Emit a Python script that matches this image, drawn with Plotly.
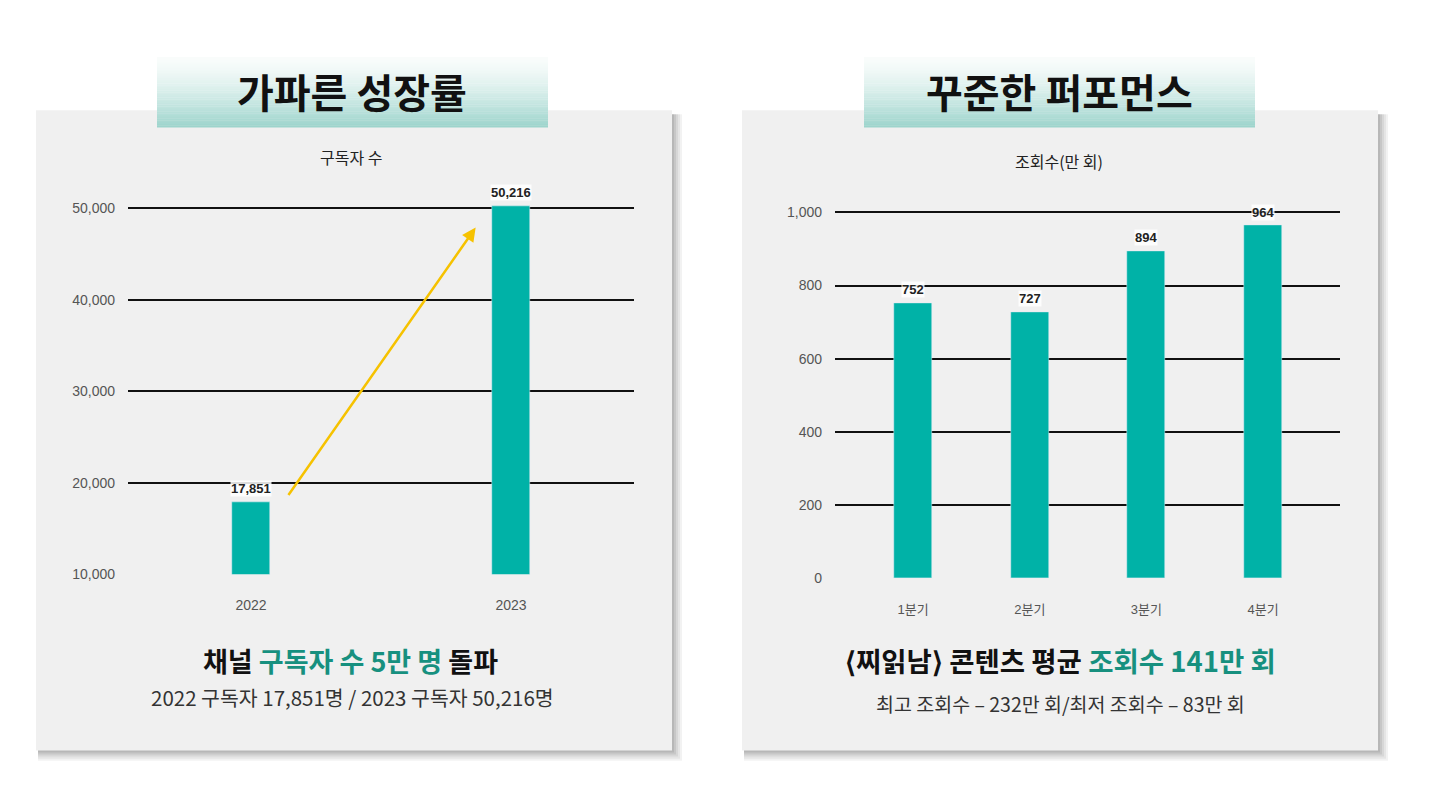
import plotly.graph_objects as go

# 데이터
years = ["2022", "2023"]
subscribers = [17851, 50216]
sub_ticks = [10000, 20000, 30000, 40000, 50000]

quarters = ["1분기", "2분기", "3분기", "4분기"]
views = [752, 727, 894, 964]
view_ticks = [0, 200, 400, 600, 800, 1000]

# 페이지 body 여백(8px)을 감안한 크기: 스크롤이 생기지 않게
OFF = 8
W, H = 1430 - 2 * OFF, 804 - 2 * OFF
TEAL = "#00b2a7"
KR = "Noto Sans CJK KR"
NUM = "Liberation Sans"
YFIX = 1.0125  # 세로 보정


def px(x):
    return (x - OFF) / W


def py(y):
    y = 92 + (y - 92) * YFIX
    return 1 - (y - OFF) / H


fig = go.Figure()

# 왼쪽: 구독자 수
fig.add_trace(go.Bar(x=years, y=subscribers, marker_color=TEAL, width=0.145,
                     xaxis="x", yaxis="y", hoverinfo="skip"))
# 오른쪽: 조회수
fig.add_trace(go.Bar(x=quarters, y=views, marker_color=TEAL, width=0.326,
                     xaxis="x2", yaxis="y2", hoverinfo="skip"))

# 축 픽셀 매핑
l_scale = 91.25 / 10000
l_range = [9990, 52000]
l_dom = [py(574 - (l_range[0] - 10000) * l_scale), py(574 - (l_range[1] - 10000) * l_scale)]
r_bottom, r_scale = 578, 0.365
r_range = [-2, 1050]
r_dom = [py(r_bottom - r_range[0] * r_scale), py(r_bottom - r_range[1] * r_scale)]

axis_common = dict(showline=False, zeroline=False, fixedrange=True)
ytick_font = dict(family=NUM, size=14, color="#555555")
xtick_font = dict(family=NUM, size=14, color="#555555")
qtick_font = dict(family=NUM + ", " + KR, size=13, color="#555555")

fig.update_layout(
    width=W, height=H,
    margin=dict(l=0, r=0, t=0, b=0),
    paper_bgcolor="white",
    plot_bgcolor="rgba(0,0,0,0)",
    showlegend=False,
    bargap=0,
    xaxis=dict(domain=[px(128), px(634)], range=[-0.473, 1.473], type="category",
               showgrid=False, tickfont=xtick_font, ticks="", ticklabelstandoff=21,
               anchor="y", **axis_common),
    yaxis=dict(domain=l_dom, range=l_range, tickvals=sub_ticks, tickformat=",",
               showgrid=True, gridcolor="#111111", gridwidth=1.6,
               tickfont=ytick_font, ticks="", ticklabelstandoff=12,
               anchor="x", **axis_common),
    xaxis2=dict(domain=[px(835), px(1340)], range=[-0.67, 3.66], type="category",
                showgrid=False, tickfont=qtick_font, ticks="", ticklabelstandoff=21,
                anchor="y2", **axis_common),
    yaxis2=dict(domain=r_dom, range=r_range, tickvals=view_ticks, tickformat=",",
                showgrid=True, gridcolor="#111111", gridwidth=1.6,
                tickfont=ytick_font, ticks="", ticklabelstandoff=12,
                anchor="x2", **axis_common),
)

shapes = []


# 종이 패널 + 그림자
def panel(x0, y0, x1, y1):
    for i, op in enumerate([0.05, 0.05, 0.06, 0.07, 0.08]):
        d = 10 - i * 2
        shapes.append(dict(type="rect", xref="paper", yref="paper",
                           x0=px(x0 + 2), x1=px(x1 + d), y0=py(y1 + d), y1=py(y0 + 4),
                           fillcolor=f"rgba(0,0,0,{op})", line_width=0, layer="below"))
    shapes.append(dict(type="rect", xref="paper", yref="paper",
                       x0=px(x0), x1=px(x1), y0=py(y1), y1=py(y0),
                       fillcolor="#f0f0f0", line_width=0, layer="below"))


# 제목 박스 그라데이션
def title_box(x0, y0, x1, y1, n=40):
    top = (250, 253, 252)
    bot = (156, 212, 204)
    h = (y1 - y0) / n
    for i in range(n):
        t = ((i + 0.5) / n) ** 1.4
        c = tuple(int(top[k] + (bot[k] - top[k]) * t) for k in range(3))
        shapes.append(dict(type="rect", xref="paper", yref="paper",
                           x0=px(x0), x1=px(x1), y0=py(y0 + h * (i + 1) + 0.3), y1=py(y0 + h * i),
                           fillcolor=f"rgb{c}", line_width=0, layer="below"))


panel(36, 111, 672, 750)
panel(742, 111, 1378, 750)
title_box(157, 58, 548, 128)
title_box(864, 58, 1255, 128)
fig.update_layout(shapes=shapes)

ann = []


def text(x, y, s, size, color="#111111", family=KR, weight="normal"):
    ann.append(dict(x=px(x), y=py(y), xref="paper", yref="paper", text=s,
                    showarrow=False, xanchor="center", yanchor="middle",
                    font=dict(family=family, size=size, color=color, weight=weight)))


# 제목
text(352, 92, "가파른 성장률", 40, "#111111", weight="bold")
text(1059, 92, "꾸준한 퍼포먼스", 40, "#111111", weight="bold")

# 축 제목
text(351, 158, "구독자 수", 16, "#222222")
text(1059, 162, "조회수(만 회)", 16, "#222222")

# 하단 설명
tc = "#17907f"
text(350, 660, f"채널 <span style='color:{tc}'>구독자 수 5만 명</span> 돌파", 27, "#111111", weight="bold")
text(352, 697, "2022 구독자 17,851명 / 2023 구독자 50,216명", 20.5, "#333333")
text(1060, 660, f"⟨찌읽남⟩ 콘텐츠 평균 <span style='color:{tc}'>조회수 141만 회</span>", 27.5, "#111111", weight="bold")
text(1060, 703, "최고 조회수 – 232만 회/최저 조회수 – 83만 회", 19.5, "#333333")

# 값 라벨 (카테고리 인덱스로 위치)
for xa, ya, vals in [("x", "y", subscribers), ("x2", "y2", views)]:
    for i, v in enumerate(vals):
        ann.append(dict(x=i, y=v, xref=xa, yref=ya, text=f"{v:,}", showarrow=False,
                        yanchor="bottom", yshift=5, bgcolor="rgba(255,255,255,0.85)",
                        borderpad=0,
                        font=dict(family=NUM, size=13, color="#222222", weight="bold")))

# 성장 화살표
ann.append(dict(x=0.864, y=47900, xref="x", yref="y", ax=0.14, ay=18500,
                axref="x", ayref="y", showarrow=True, arrowhead=2, arrowsize=1.1,
                arrowwidth=2.5, arrowcolor="#f6c200", text=""))

fig.update_layout(annotations=ann)

fig.write_html("out.html")
